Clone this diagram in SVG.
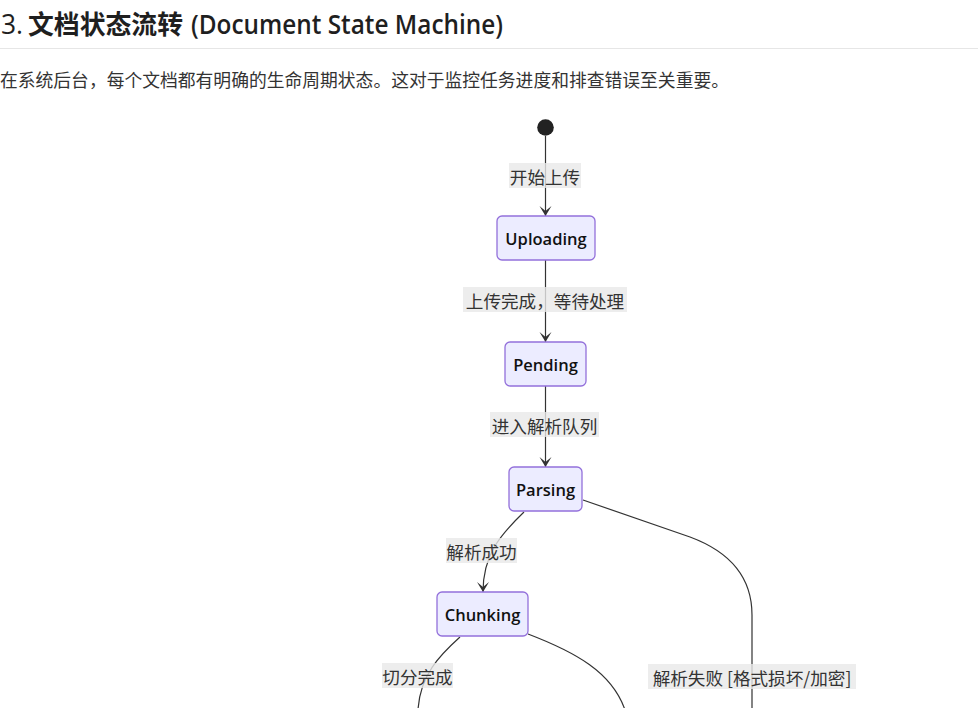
<svg xmlns="http://www.w3.org/2000/svg" width="978" height="708" viewBox="0 0 978 708">
<style>
  .h { font-family: "Open Sans", "Noto Sans", "Noto Sans CJK SC", sans-serif; font-size: 26.4px; fill: #1f1f1f; }
  .p { font-family: "Noto Sans CJK SC", sans-serif; font-size: 17.8px; fill: #333; }
  .node rect { fill: #ECECFF; stroke: #9370DB; stroke-width: 1.3; }
  .node text { font-family: "Open Sans", "Noto Sans", sans-serif; font-size: 16.5px; fill: #111; text-anchor: middle; dominant-baseline: central; font-weight: 600; }
  .edge { fill: none; stroke: #333; stroke-width: 1.2; }
  .lbl rect { fill: #e8e8e8; opacity: 0.8; }
  .lbl text { font-family: "Noto Sans CJK SC", sans-serif; font-size: 17.6px; fill: #333; text-anchor: middle; dominant-baseline: central; }
</style>
<defs>
  <marker id="barb" viewBox="0 0 20 14" refX="19" refY="7" markerWidth="20" markerHeight="14" markerUnits="userSpaceOnUse" orient="auto">
    <path d="M19,7 L9,13 L14,7 L9,1 Z" fill="#333"/>
  </marker>
</defs>
<rect width="978" height="708" fill="#fff"/>
<g id="heading">
  <text class="h" x="1" y="34">3.</text>
  <text class="h" x="28" y="34" font-weight="bold" textLength="155" lengthAdjust="spacingAndGlyphs">文档状态流转</text>
  <text class="h" x="191" y="34" font-weight="600" textLength="312" lengthAdjust="spacingAndGlyphs">(Document State Machine)</text>
  <line x1="0" y1="48.5" x2="978" y2="48.5" stroke="#e6e6e6" stroke-width="1"/>
  <text class="p" x="0" y="87" textLength="729" lengthAdjust="spacingAndGlyphs">在系统后台，每个文档都有明确的生命周期状态。这对于监控任务进度和排查错误至关重要。</text>
</g>
<g id="connectors">
  <path class="edge" d="M545.5,136 L545.5,216" marker-end="url(#barb)"/>
  <path class="edge" d="M545.5,260 L545.5,342" marker-end="url(#barb)"/>
  <path class="edge" d="M545.5,386 L545.5,467" marker-end="url(#barb)"/>
  <path class="edge" d="M524,512 C500,535 483,555 483,592" marker-end="url(#barb)"/>
  <path class="edge" d="M583,500 L690,537 Q752,560 752,615 L752,710"/>
  <path class="edge" d="M460,637 C440,655 420,675 418,710"/>
  <path class="edge" d="M528,634 C575,652 612,672 625,710"/>
</g>
<g id="labels">
  <g class="lbl"><rect x="509" y="163" width="72" height="25"/><text x="545" y="176">开始上传</text></g>
  <g class="lbl"><rect x="463" y="287" width="164" height="25"/><text x="545" y="300">上传完成，等待处理</text></g>
  <g class="lbl"><rect x="490" y="412" width="109" height="25"/><text x="544.5" y="425">进入解析队列</text></g>
  <g class="lbl"><rect x="446" y="538" width="71" height="25"/><text x="481.5" y="551">解析成功</text></g>
  <g class="lbl"><rect x="382" y="663" width="71" height="25"/><text x="417.5" y="676">切分完成</text></g>
  <g class="lbl"><rect x="648" y="664" width="208" height="25"/><text x="752" y="677">解析失败 [格式损坏/加密]</text></g>
</g>
<g id="start"><circle cx="545.5" cy="127.5" r="8.3" fill="#222"/></g>
<g id="uploading" class="node"><rect x="497" y="216" width="98" height="44" rx="5"/><text x="546" y="238">Uploading</text></g>
<g id="pending" class="node"><rect x="505" y="342" width="81" height="44" rx="5"/><text x="545.5" y="364">Pending</text></g>
<g id="parsing" class="node"><rect x="509" y="467" width="73" height="44" rx="5"/><text x="545.5" y="489">Parsing</text></g>
<g id="chunking" class="node"><rect x="437" y="592" width="91" height="44" rx="5"/><text x="482.5" y="614">Chunking</text></g>
</svg>
